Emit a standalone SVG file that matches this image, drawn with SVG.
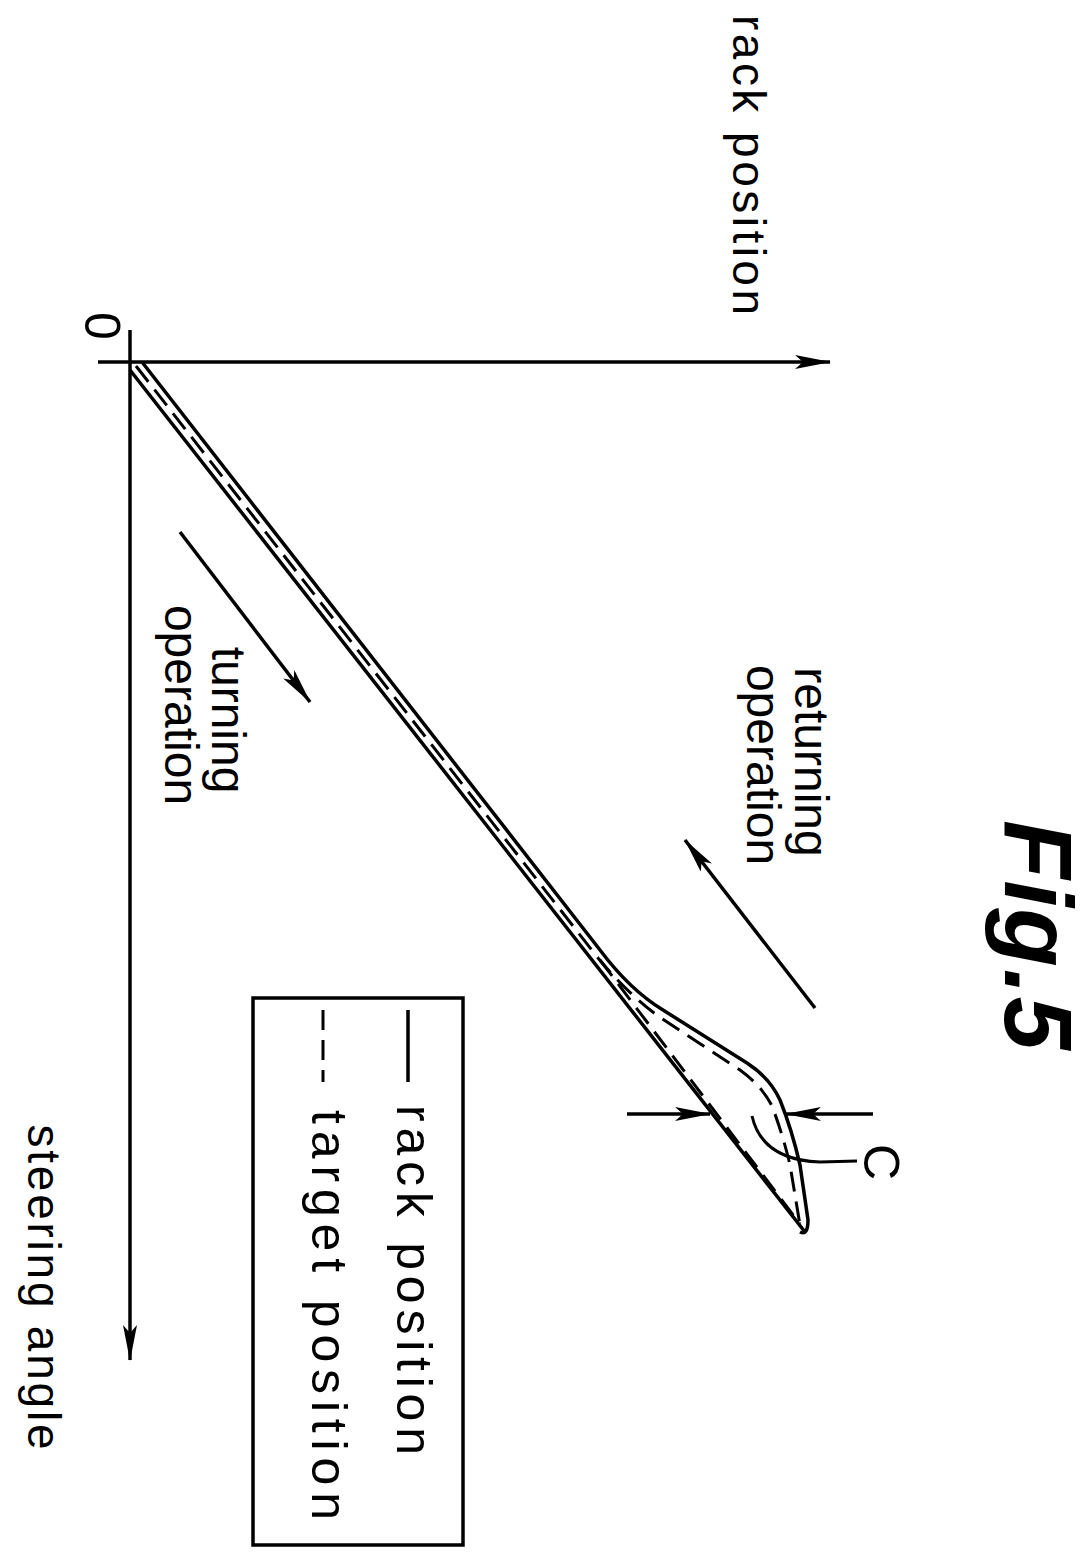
<svg xmlns="http://www.w3.org/2000/svg" width="1089" height="1562" viewBox="0 0 1089 1562">
<style>
.l{fill:none;stroke:#000;stroke-width:3.5}
.d{fill:none;stroke:#000;stroke-width:3}
.t{font-family:"Liberation Sans",Arial,sans-serif;font-size:46px;fill:#000;text-anchor:middle}
</style>
<defs>
<marker id="b" markerWidth="36" markerHeight="14" refX="35" refY="7" orient="auto" markerUnits="userSpaceOnUse" viewBox="0 0 36 14"><path d="M0,0L36,7L0,14L8,7z"/></marker>
</defs>
<rect width="1089" height="1562" fill="#fff"/>
<g id="axes">
<line class="l" x1="98" y1="362" x2="830" y2="362" marker-end="url(#b)"/>
<line class="l" x1="130" y1="330" x2="130" y2="1360" marker-end="url(#b)"/>
</g>
<g id="connectors">
<path class="l" d="M130,370 L805,1232"/>
<path class="l" d="M142,362 L600,950 Q630,990 663,1010 L747,1063 Q770,1078 780,1100 Q792,1130 800,1165 L808,1220 Q808,1236 800,1232"/>
<path class="d" stroke-dasharray="20,10" d="M136,366 L598,958 Q626,992 658,1016 L740,1070 Q762,1086 772,1106 Q783,1135 790,1165 L800,1225"/>
<path class="d" stroke-dasharray="20,10" d="M600,960 L800,1224"/>
<line class="l" x1="180" y1="532" x2="310" y2="702" marker-end="url(#b)"/>
<line class="l" x1="815" y1="1008" x2="685" y2="840" marker-end="url(#b)"/>
<line class="l" x1="627" y1="1114" x2="710" y2="1114" marker-end="url(#b)"/>
<line class="l" x1="873" y1="1114" x2="786" y2="1114" marker-end="url(#b)"/>
<path class="d" d="M752,1116 Q762,1160 820,1162 L857,1161"/>
</g>
<g id="labels">
<text class="t" textLength="300" transform="translate(733,165) rotate(90)">rack position</text>
<text class="t" style="font-size:50px" transform="translate(85,326) rotate(90)">0</text>
<text class="t" textLength="325" transform="translate(28,1287) rotate(90)">steering angle</text>
<text class="t" style="font-size:48px" transform="translate(212,720) rotate(90)">turning</text>
<text class="t" style="font-size:48px" transform="translate(165,705) rotate(90)">operation</text>
<text class="t" style="font-size:48px" transform="translate(795,762) rotate(90)">returning</text>
<text class="t" style="font-size:48px" transform="translate(747,765) rotate(90)">operation</text>
<text class="t" style="font-size:50px" transform="translate(864,1162) rotate(90)">C</text>
<text class="t" style="font-weight:bold;font-style:italic;font-size:96px" textLength="230" transform="translate(1005,935) rotate(90)">Fig.5</text>
</g>
<g id="legend">
<rect class="l" x="253" y="998" width="210" height="547"/>
<line class="l" x1="408" y1="1010" x2="408" y2="1082"/>
<line class="d" stroke-dasharray="20,10" x1="323" y1="1010" x2="323" y2="1082"/>
<text class="t" style="font-size:50px" textLength="350" transform="translate(397,1280) rotate(90)">rack position</text>
<text class="t" style="font-size:50px" textLength="410" transform="translate(312,1315) rotate(90)">target position</text>
</g>
</svg>
